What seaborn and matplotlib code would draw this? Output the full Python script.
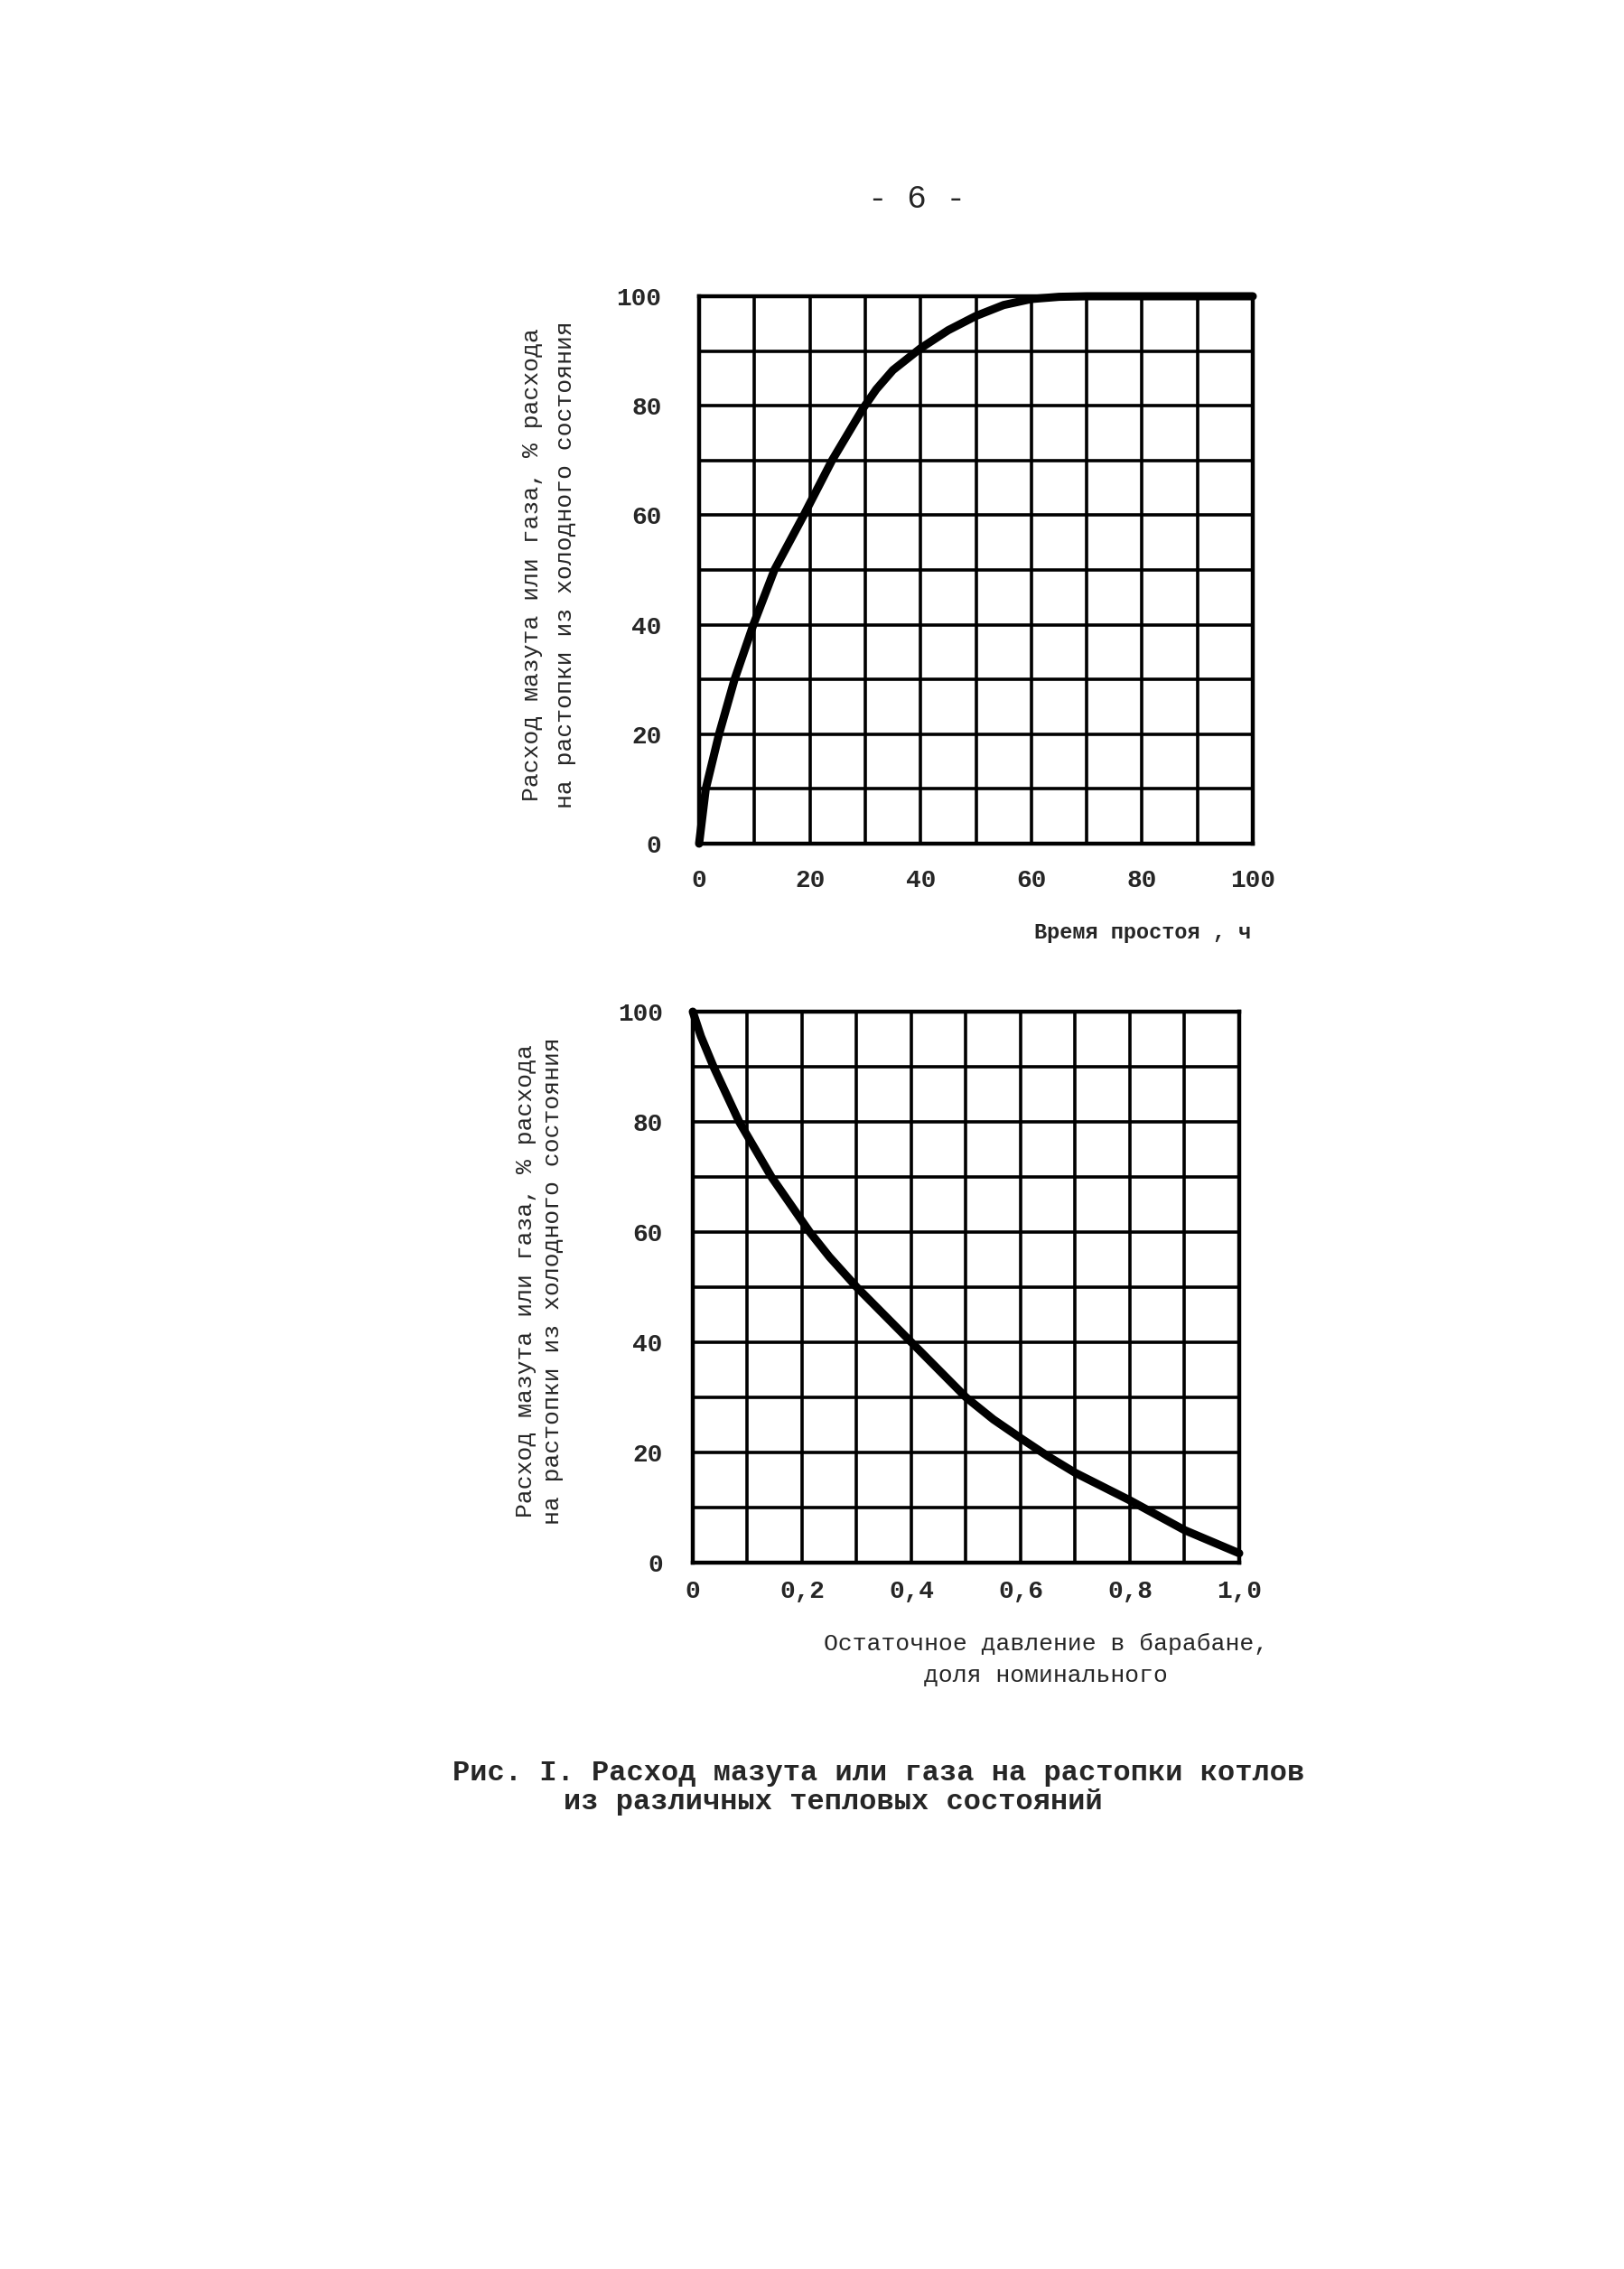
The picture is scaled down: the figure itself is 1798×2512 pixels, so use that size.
"""
Fuel oil / gas consumption for boiler start-ups from various thermal states.
"""

import matplotlib
matplotlib.use("Agg")
import matplotlib.pyplot as plt
import seaborn as sns
import pandas as pd

# top chart: downtime, h -> % of cold start consumption
downtime_h = [0, 1.2, 3.6, 6.4, 9.8, 13.6, 18.9, 24, 29.6, 32, 35, 40, 45, 50, 55, 60, 65, 70, 80,
              90, 100]
fuel_by_downtime = [0, 10, 20, 30, 40, 50, 60, 70, 79.5, 83, 86.5, 90.5, 93.8, 96.4, 98.4, 99.5,
                    99.9, 100, 100, 100, 100]

# bottom chart: residual drum pressure, fraction of nominal -> % of cold start consumption
pressure_frac = [0, 0.015, 0.038, 0.085, 0.144, 0.214, 0.25, 0.3, 0.35, 0.4, 0.45, 0.5, 0.55, 0.6,
                 0.65, 0.7, 0.75, 0.8, 0.85, 0.9, 0.95, 1.0]
fuel_by_pressure = [100, 95.5, 90, 80, 70, 60, 55.5, 50, 45, 40, 35, 30, 26, 22.6, 19.3, 16.3, 13.8,
                    11.3, 8.6, 5.9, 3.8, 1.7]

top_xticks = [0, 20, 40, 60, 80, 100]
top_xticklabels = ["0", "20", "40", "60", "80", "100"]
bottom_xticks = [0, 0.2, 0.4, 0.6, 0.8, 1.0]
bottom_xticklabels = ["0", "0,2", "0,4", "0,6", "0,8", "1,0"]
yticks = [0, 20, 40, 60, 80, 100]
yticklabels = ["0", "20", "40", "60", "80", "100"]

ylabel_line1_top = "Расход мазута или газа, % расхода"
ylabel_line1_bottom = "Расход мазута или газа, % расхода"
ylabel_line2 = "на растопки из холодного состояния"
top_xlabel = "Время простоя , ч"
bottom_xlabel = ["Остаточное давление в барабане,", "доля номинального"]
caption = ["Рис. I. Расход мазута или газа на растопки котлов", "из различных тепловых состояний"]

sns.set_style("white")
plt.rcParams["font.family"] = ["Liberation Mono", "DejaVu Sans Mono"]

W, H = 1799, 2512
fig = plt.figure(figsize=(W / 100, H / 100), dpi=100)


def _axes_from_px(left, top, right, bottom):
    return fig.add_axes([left / W, 1 - bottom / H, (right - left) / W, (bottom - top) / H])


def _style_grid(ax, xmax, xstep, xticks, xticklabels, xpad, ypad):
    ax.set_xlim(0, xmax)
    ax.set_ylim(0, 100)
    ax.set_xticks([i * xstep for i in range(11)], minor=True)
    ax.set_yticks(list(range(0, 101, 10)), minor=True)
    ax.set_xticks(xticks)
    ax.set_xticklabels(xticklabels, fontsize=20, fontweight="bold")
    ax.set_yticks(yticks)
    ax.set_yticklabels(yticklabels, fontsize=20, fontweight="bold")
    ax.tick_params(which="both", length=0)
    ax.tick_params(axis="x", pad=xpad)
    ax.tick_params(axis="y", pad=ypad)
    ax.grid(which="both", color="black", linewidth=2.6)
    for spine in ax.spines.values():
        spine.set_color("black")
        spine.set_linewidth(3.2)
    ax.set_xlabel("")
    ax.set_ylabel("")


line_kw = dict(color="black", linewidth=6.5, clip_on=False, zorder=5,
               solid_joinstyle="round", solid_capstyle="round")

# top chart
ax1 = _axes_from_px(774, 328, 1387, 934)
df_top = pd.DataFrame({"t": downtime_h, "q": fuel_by_downtime})
sns.lineplot(data=df_top, x="t", y="q", ax=ax1, **line_kw)
_style_grid(ax1, 100, 10, top_xticks, top_xticklabels, xpad=20, ypad=30)

fig.text(589 / W, 1 - 625 / H, ylabel_line1_top, rotation=90, ha="center", va="center", fontsize=19)
fig.text(626 / W, 1 - 625 / H, ylabel_line2, rotation=90, ha="center", va="center", fontsize=19)
fig.text(1385 / W, 1 - 1033 / H, top_xlabel, ha="right", va="center", fontsize=17, fontweight="bold")

# bottom chart
ax2 = _axes_from_px(767, 1120, 1372, 1730)
df_bottom = pd.DataFrame({"p": pressure_frac, "q": fuel_by_pressure})
sns.lineplot(data=df_bottom, x="p", y="q", ax=ax2, **line_kw)
_style_grid(ax2, 1.0, 0.1, bottom_xticks, bottom_xticklabels, xpad=14, ypad=24)

fig.text(582 / W, 1 - 1418 / H, ylabel_line1_bottom, rotation=90, ha="center", va="center", fontsize=19)
fig.text(612 / W, 1 - 1418 / H, ylabel_line2, rotation=90, ha="center", va="center", fontsize=19)
fig.text(1158 / W, 1 - 1820 / H, bottom_xlabel[0], ha="center", va="center", fontsize=19)
fig.text(1158 / W, 1 - 1855 / H, bottom_xlabel[1], ha="center", va="center", fontsize=19)

# page number and caption
fig.text(1015 / W, 1 - 220 / H, "- 6 -", ha="center", va="center", fontsize=26)
fig.text(501 / W, 1 - 1963 / H, caption[0], ha="left", va="center", fontsize=23, fontweight="bold")
fig.text(624 / W, 1 - 1995 / H, caption[1], ha="left", va="center", fontsize=23, fontweight="bold")

fig.savefig("out.png", dpi=100, facecolor="white")
